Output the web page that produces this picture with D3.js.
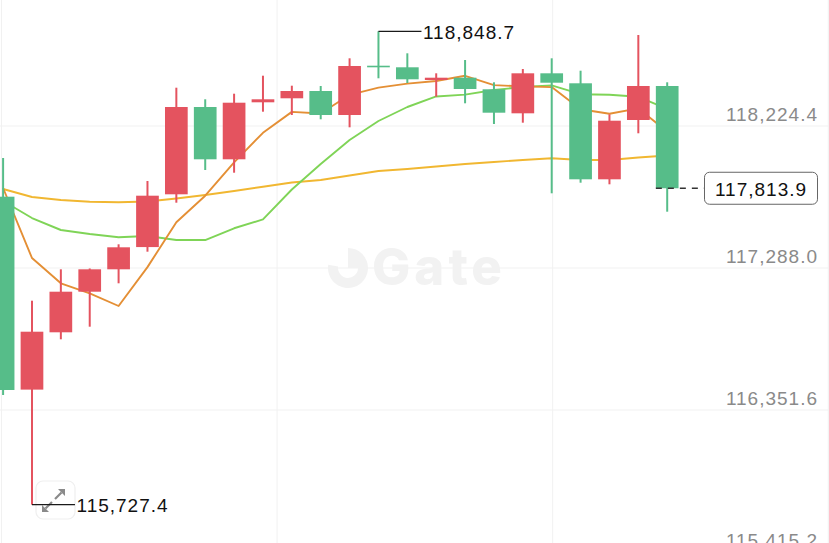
<!DOCTYPE html>
<html><head><meta charset="utf-8">
<script src="https://cdn.jsdelivr.net/npm/d3@7"></script>
<style>html,body{margin:0;padding:0;background:#fff;overflow:hidden}</style>
</head><body><svg id="c" width="829" height="543"></svg>
<script>
// ---- data ----
const categories = ["1","2","3","4","5","6","7","8","9","10","11","12","13","14","15","16","17","18","19","20","21","22","23","24"];
const opens  = [117758.2,116486.0,116864.0,117131.7,117279.4,117426.0,117774.0,118349.7,118004.8,118380.7,118407.1,118455.2,118296.9,118622.0,118611.5,118527.7,118542.9,118466.4,118308.1,118571.9,118506.0,117872.9,118264.0,118488.2];
const highs  = [118013.4,117072.4,117279.4,117285.0,117444.3,117861.7,118477.0,118400.5,118437.4,118556.1,118490.2,118488.2,118670.8,118848.7,118703.8,118571.9,118659.6,118512.6,118600.3,118670.8,118589.1,118301.6,118824.5,118512.6];
const lows   = [116450.5,115727.4,116817.8,116900.9,117187.1,117395.5,117718.6,117934.2,117916.4,118318.7,118296.9,118268.6,118215.8,118539.0,118508.0,118417.6,118374.1,118237.6,118246.2,117780.6,117850.5,117839.9,118176.3,117659.3];
const closes = [116483.5,116867.9,117131.7,117279.4,117424.5,117764.8,118349.7,118004.8,118378.0,118400.5,118455.2,118296.9,118620.1,118613.5,118532.4,118542.9,118468.4,118312.1,118571.9,118509.9,117872.9,118259.3,118488.2,117813.9];
const ma5  = [117815.6,117353.9,117187.1,117121.2,117037.4,117293.7,117590.0,117764.6,117984.4,118179.6,118317.6,118307.1,118430.1,118477.2,118503.6,118521.2,118555.5,118493.9,118485.5,118481.0,118335.0,118305.2,118340.4,118188.8];
const ma10 = [117729.8,117617.7,117538.6,117512.2,117490.4,117499.0,117472.6,117472.6,117550.0,117608.5,117805.7,117973.8,118132.1,118257.4,118349.7,118419.4,118431.3,118462.0,118481.4,118492.3,118434.1,118430.3,118417.2,118337.2];
const ma30 = [117809.0,117756.2,117736.4,117725.2,117721.2,117726.5,117746.3,117769.4,117795.8,117824.1,117851.8,117868.3,117898.0,117927.7,117940.8,117957.3,117973.8,117987.0,118000.2,118011.4,118000.2,118000.2,118016.7,118029.9];
const yTicks = [115415.2,116351.6,117288.0,118224.4];

// ---- drawing ----
const W = 829, H = 543;
const svg = d3.select("#c");
const UP = "#e4535f", DOWN = "#56bd89";
const fmt = d3.format(",.1f");
const FONT = "'Liberation Sans', Arial, sans-serif";
const FS = 19, LS = "1px";

const x = d3.scalePoint().domain(categories).range([3.1, 667.2]);
const bodyW = x.step() * 0.786;
const y = d3.scaleLinear().domain([yTicks[0], yTicks[3]]).range([552, 126]);

// grid
const grid = svg.append("g");
grid.selectAll("line.h").data(yTicks).join("line")
  .attr("x1", 0).attr("x2", W).attr("y1", d => y(d)).attr("y2", d => y(d))
  .attr("stroke", "#f1f1f1").attr("stroke-width", 1);
grid.selectAll("line.v").data([0, 1, 2, 3]).join("line")
  .attr("x1", d => 1.5 + d * 275.6).attr("x2", d => 1.5 + d * 275.6)
  .attr("y1", 0).attr("y2", H)
  .attr("stroke", "#f1f1f1").attr("stroke-width", 1);

// watermark
const wm = svg.append("g").attr("fill", "#f2f2f2");
wm.append("path")
  .attr("d", d3.arc()({innerRadius: 10, outerRadius: 20, startAngle: 0.0, endAngle: Math.PI * 1.55}))
  .attr("transform", "translate(348,268)");
wm.append("rect").attr("x", 348).attr("y", 258).attr("width", 10).attr("height", 10);
wm.append("text").attr("x", 372).attr("y", 285)
  .attr("font-family", "Inter, 'Open Sans', sans-serif").attr("font-weight", 800)
  .attr("font-size", 51).attr("textLength", 130).text("Gate");

// axis labels
const axis = d3.axisLeft(y).tickValues(yTicks).tickFormat(fmt).tickSize(0).tickPadding(0);
const ag = svg.append("g").attr("transform", "translate(818,0)").call(axis);
ag.select(".domain").remove();
ag.selectAll("text").attr("dy", "-0.28em").attr("fill", "#8a8a8a")
  .attr("font-family", FONT).attr("font-size", FS).attr("letter-spacing", LS);

// MA lines
const line = d3.line().x((d, i) => x(categories[i])).y(d => y(d));
[[ma30, "#f1b731"], [ma10, "#7fd457"], [ma5, "#e48f35"]].forEach(([s, c]) => {
  svg.append("path").attr("d", line(s)).attr("fill", "none")
    .attr("stroke", c).attr("stroke-width", 1.9).attr("stroke-linejoin", "round");
});

// candles
const rows = categories.map((c, i) => ({c, o: opens[i], h: highs[i], l: lows[i], cl: closes[i]}));
const cg = svg.append("g");
const g1 = cg.selectAll("g").data(rows).join("g");
g1.append("line")
  .attr("x1", d => x(d.c)).attr("x2", d => x(d.c))
  .attr("y1", d => y(d.h)).attr("y2", d => y(d.l))
  .attr("stroke", d => d.cl >= d.o ? UP : DOWN).attr("stroke-width", 2);
g1.append("rect")
  .attr("x", d => x(d.c) - bodyW / 2).attr("width", bodyW)
  .attr("y", d => y(Math.max(d.o, d.cl)))
  .attr("height", d => Math.max(1.6, Math.abs(y(d.o) - y(d.cl))))
  .attr("fill", d => d.cl >= d.o ? UP : DOWN);

// high / low annotations
const hi = d3.maxIndex(highs), lo = d3.minIndex(lows);
function annot(i, v) {
  const px = x(categories[i]), py = y(v);
  svg.append("line").attr("x1", px).attr("x2", px + 43).attr("y1", py).attr("y2", py)
    .attr("stroke", "#1a1a1a").attr("stroke-width", 1.3);
  svg.append("text").attr("x", px + 44.5).attr("y", py + 7.8)
    .attr("font-family", FONT).attr("font-size", FS).attr("letter-spacing", LS)
    .attr("fill", "#111").text(fmt(v));
}

// expand button (bottom-left)
const bx = svg.append("g");
bx.append("rect").attr("x", 36).attr("y", 481).attr("width", 39).attr("height", 38).attr("rx", 7)
  .attr("fill", "#fff").attr("stroke", "#efefef").attr("stroke-width", 1.2);
bx.append("path").attr("d", "M55,499 L61.5,492.5 M52,502 L45.5,508.5")
  .attr("stroke", "#8a8a8a").attr("stroke-width", 2.2).attr("fill", "none");
bx.append("path").attr("d", "M58,489 L65,489 L65,496 Z M42,505 L42,512 L49,512 Z").attr("fill", "#8a8a8a");

annot(hi, highs[hi]);
annot(lo, lows[lo]);

// current price
const last = closes[closes.length - 1];
const ly = y(last);
const lx = x(categories[categories.length - 1]);
svg.append("line").attr("x1", lx - bodyW / 2).attr("x2", 704).attr("y1", ly).attr("y2", ly)
  .attr("stroke", "#333").attr("stroke-width", 1.3).attr("stroke-dasharray", "6,6");
svg.append("rect").attr("x", 704.5).attr("y", ly - 16).attr("width", 113).attr("height", 32).attr("rx", 5)
  .attr("fill", "#fff").attr("stroke", "#666").attr("stroke-width", 1);
svg.append("text").attr("x", 761).attr("y", ly + 7.8).attr("text-anchor", "middle")
  .attr("font-family", FONT).attr("font-size", FS).attr("letter-spacing", LS)
  .attr("fill", "#111").text(fmt(last));
</script></body></html>
